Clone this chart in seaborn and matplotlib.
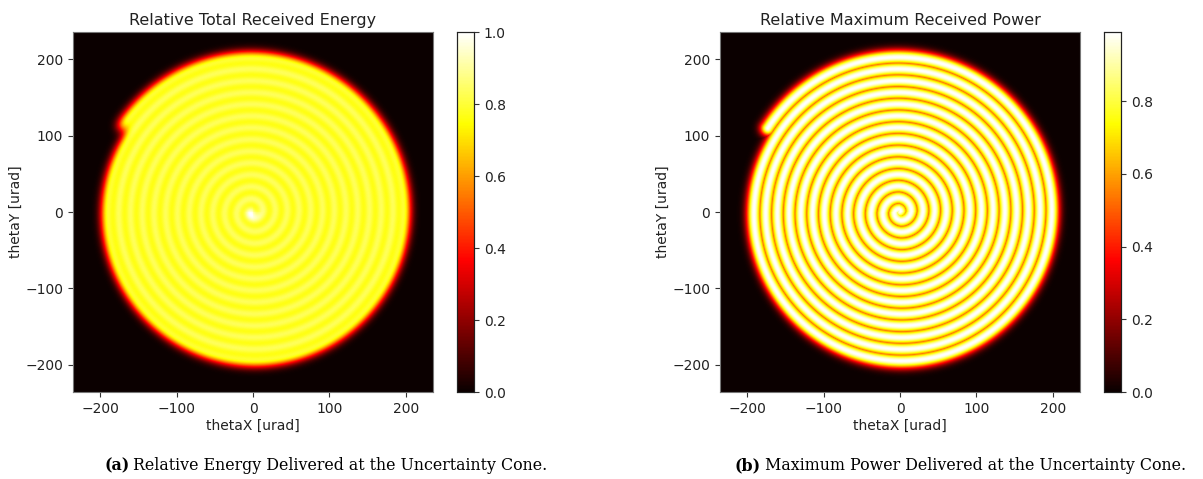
import numpy as np
import pandas as pd
import matplotlib
matplotlib.use("Agg")
import matplotlib.pyplot as plt
import seaborn as sns

# ---- scan / beam parameters (angles in urad) ----
grid_limit = 235.0          # half-width of the plotted angular window
n_cells = 361               # cells per side of the map
spiral_pitch = 15.3         # radial spacing between spiral arms
spiral_start_turn = 0.0     # scan begins on the cone axis
spiral_turns = 13.41        # turn count at the end of the Archimedean scan
energy_sigma = 6.75         # Gaussian beam radius used for received energy
power_sigma = 7.0           # Gaussian beam radius used for received power
sample_step = 0.4           # arc-length step between scan samples
power_peak = 0.99           # peak relative power reached on the grid

axis_ticks = [-200, -100, 0, 100, 200]
energy_cbar_ticks = [0.0, 0.2, 0.4, 0.6, 0.8, 1.0]
power_cbar_ticks = [0.0, 0.2, 0.4, 0.6, 0.8]

titles = ["Relative Total Received Energy", "Relative Maximum Received Power"]
captions = [("(a)", "Relative Energy Delivered at the Uncertainty Cone."),
            ("(b)", "Maximum Power Delivered at the Uncertainty Cone.")]

# ---- grid ----
xs = np.linspace(-grid_limit, grid_limit, n_cells)
ys = np.linspace(grid_limit, -grid_limit, n_cells)   # top row = +thetaY
h = xs[1] - xs[0]

# ---- scan trajectory sampled at constant linear speed ----
a = spiral_pitch / (2 * np.pi)
th = np.linspace(spiral_start_turn * 2 * np.pi, spiral_turns * 2 * np.pi, 400000)
ds = a * np.sqrt(1 + th ** 2)
s = np.concatenate([[0], np.cumsum(0.5 * (ds[1:] + ds[:-1]) * np.diff(th))])
s_samples = np.arange(0, s[-1], sample_step)
th_s = np.interp(s_samples, s, th)
sx = a * th_s * np.cos(th_s)
sy = a * th_s * np.sin(th_s)

# ---- accumulate energy (sum) and peak power (max) ----
energy = np.zeros((n_cells, n_cells))
power = np.zeros((n_cells, n_cells))
half = int(np.ceil(4.5 * max(energy_sigma, power_sigma) / h))
for px, py in zip(sx, sy):
    ci = int(round((px - xs[0]) / h))
    ri = int(round((ys[0] - py) / h))
    c0, c1 = max(ci - half, 0), min(ci + half + 1, n_cells)
    r0, r1 = max(ri - half, 0), min(ri + half + 1, n_cells)
    dx2 = (xs[c0:c1] - px) ** 2
    dy2 = (ys[r0:r1] - py) ** 2
    e_patch = np.outer(np.exp(-dy2 / (2 * energy_sigma ** 2)),
                       np.exp(-dx2 / (2 * energy_sigma ** 2)))
    p_patch = np.outer(np.exp(-dy2 / (2 * power_sigma ** 2)),
                       np.exp(-dx2 / (2 * power_sigma ** 2)))
    energy[r0:r1, c0:c1] += e_patch
    np.maximum(power[r0:r1, c0:c1], p_patch, out=power[r0:r1, c0:c1])

energy /= energy.max()
power *= power_peak / power.max()

maps = [pd.DataFrame(energy, index=ys, columns=xs),
        pd.DataFrame(power, index=ys, columns=xs)]

# ---- figure ----
W, H = 1203, 479
fig = plt.figure(figsize=(W / 100, H / 100), dpi=100)
plt.rcParams["font.family"] = ["DejaVu Sans"]

ax_px = [(73, 457), (720, 1104)]
bottom_px, size_px = 87, 360

def col_pos(v):
    return (v - xs[0]) / h + 0.5

def row_pos(v):
    return (ys[0] - v) / h + 0.5

for k, (df, title) in enumerate(zip(maps, titles)):
    axl, cbl = ax_px[k]
    ax = fig.add_axes([axl / W, bottom_px / H, size_px / W, size_px / H])
    cax = fig.add_axes([cbl / W, bottom_px / H, 17 / W, size_px / H])
    vmax = 1.0 if k == 0 else None
    sns.heatmap(df, ax=ax, cbar_ax=cax, cmap="hot", vmin=0, vmax=vmax,
                xticklabels=False, yticklabels=False, rasterized=True)
    ax.set_aspect("equal")
    ax.set_xticks([col_pos(v) for v in axis_ticks])
    ax.set_xticklabels([str(v).replace("-", "\u2212") for v in axis_ticks])
    ax.set_yticks([row_pos(v) for v in axis_ticks])
    ax.set_yticklabels([str(v).replace("-", "\u2212") for v in axis_ticks],
                       rotation=0)
    ax.tick_params(direction="out", length=3.5, width=0.8, labelsize=10,
                   color="#333333", labelcolor="#222222")
    for sp in ax.spines.values():
        sp.set_visible(True)
        sp.set_color("#777777")
        sp.set_linewidth(0.8)
    ax.set_xlabel("thetaX [urad]", fontsize=10, color="#222222", labelpad=2)
    ax.set_ylabel("thetaY [urad]", fontsize=10, color="#222222", labelpad=2)
    ax.set_title(title, fontsize=11.5, color="#222222", pad=5)

    ticks = energy_cbar_ticks if k == 0 else power_cbar_ticks
    cax.set_yticks(ticks)
    cax.set_yticklabels([f"{t:.1f}" for t in ticks])
    cax.tick_params(labelsize=10, length=3.5, width=0.8, color="#333333",
                    labelcolor="#222222")
    for sp in cax.spines.values():
        sp.set_visible(True)
        sp.set_color("#222222")
        sp.set_linewidth(0.8)

# ---- sub-figure captions ----
cap_x = [104 / W, 735 / W]
for (lab, text), x0 in zip(captions, cap_x):
    t1 = fig.text(x0, 13 / H, lab, fontsize=11.4, fontweight="bold",
                  family="DejaVu Serif", va="center", ha="left")
    fig.axes[0].annotate(text, xy=(1, 0.5), xycoords=t1, xytext=(3, 0),
                         textcoords="offset points", va="center", ha="left",
                         fontsize=11.4, family="DejaVu Serif",
                         annotation_clip=False)

fig.savefig("out.png", dpi=100)
